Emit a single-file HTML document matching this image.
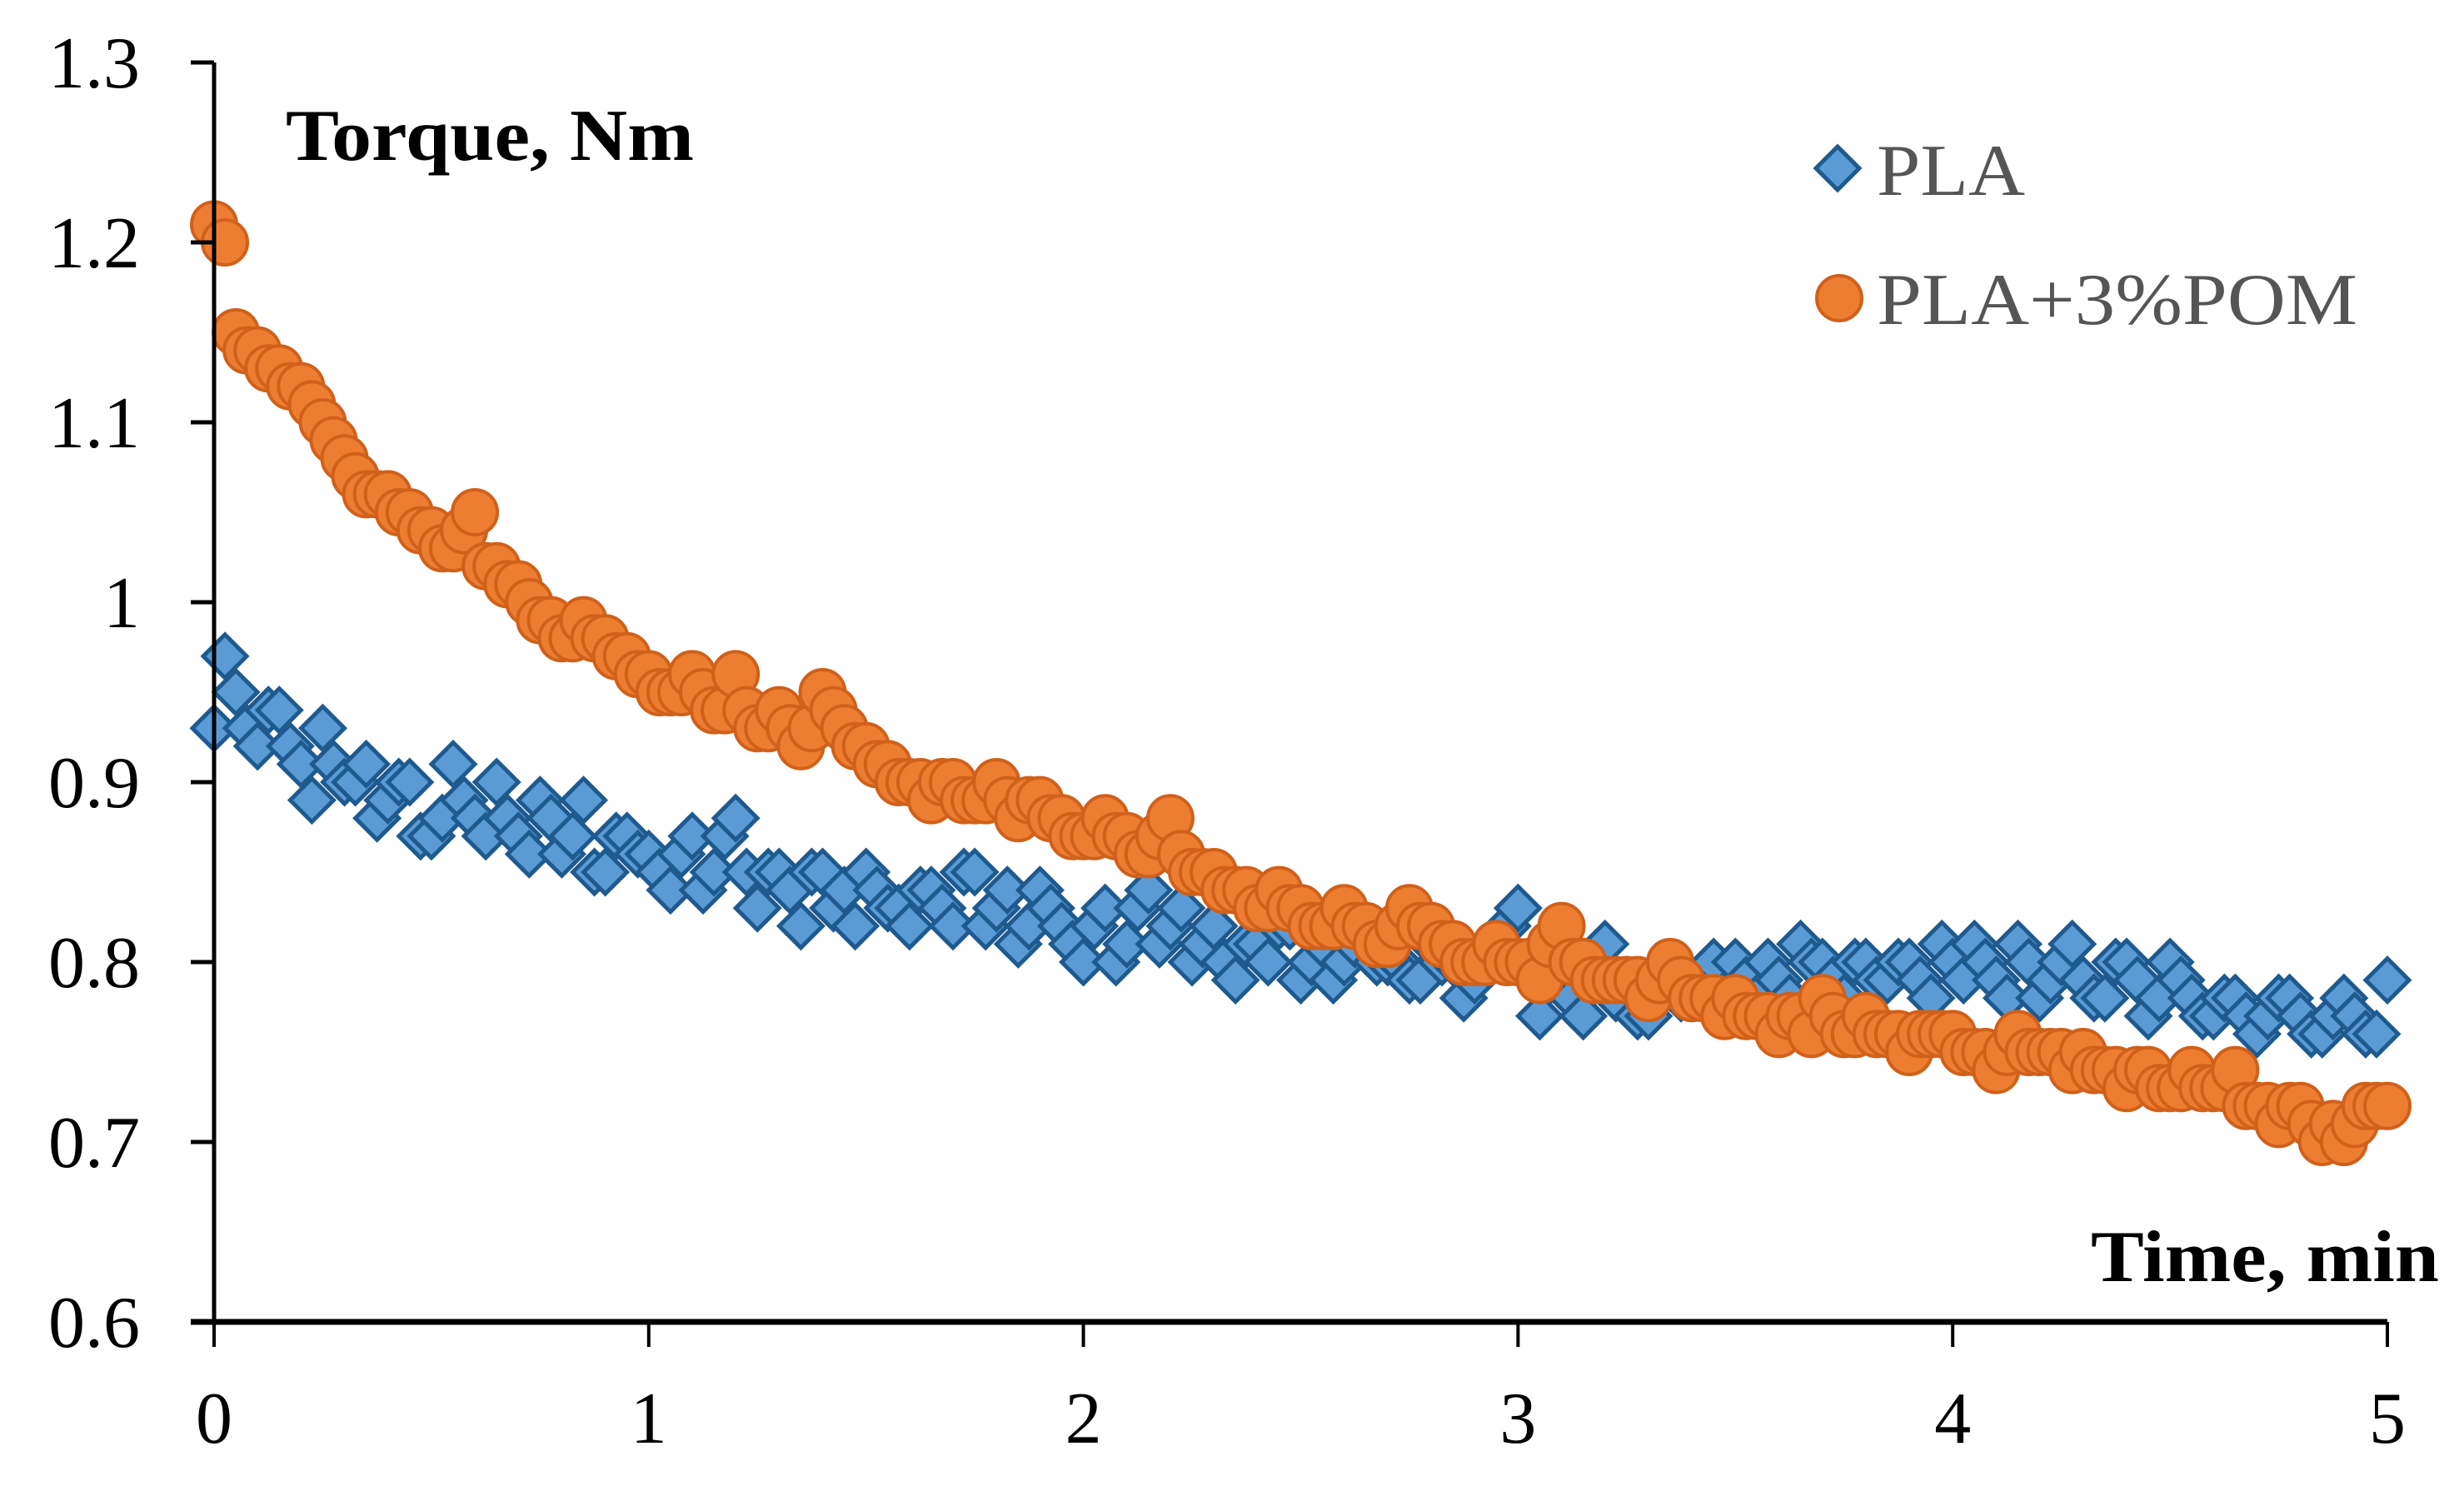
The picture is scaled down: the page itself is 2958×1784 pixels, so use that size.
<!DOCTYPE html>
<html><head><meta charset="utf-8"><style>
html,body{margin:0;padding:0;background:#fff;}
svg{display:block;font-family:"Liberation Serif",serif;}
</style></head><body>
<svg id="chart" width="2958" height="1784" viewBox="0 0 2958 1784" xmlns="http://www.w3.org/2000/svg">
<g id="marks"></g>
<g id="axes"></g>
<text x="343" y="192" font-size="88" font-weight="bold" textLength="490" lengthAdjust="spacingAndGlyphs">Torque, Nm</text>
<text x="2510" y="1538" font-size="88" font-weight="bold" textLength="418" lengthAdjust="spacingAndGlyphs">Time, min</text>
<g>
<polygon points="2206,176 2232,202 2206,228 2180,202" fill="#5B9BD5" stroke="#1F5A8F" stroke-width="5"/>
<text x="2253" y="234" font-size="88" fill="#555" textLength="178" lengthAdjust="spacingAndGlyphs">PLA</text>
<circle cx="2208" cy="358" r="27" fill="#ED7D31" stroke="#D0601A" stroke-width="4"/>
<text x="2253" y="389" font-size="88" fill="#555" textLength="577" lengthAdjust="spacingAndGlyphs">PLA+3%POM</text>
</g>
</svg>
<script>
const times = [0,0.05,0.1,0.15,0.2,0.25,0.3,0.35,0.4,0.45,0.5,0.55,0.6,0.65,0.7,0.75,0.8,0.85,0.9,0.95,1,1.05,1.1,1.15,1.2,1.25,1.3,1.35,1.4,1.45,1.5,1.55,1.6,1.65,1.7,1.75,1.8,1.85,1.9,1.95,2,2.05,2.1,2.15,2.2,2.25,2.3,2.35,2.4,2.45,2.5,2.55,2.6,2.65,2.7,2.75,2.8,2.85,2.9,2.95,3,3.05,3.1,3.15,3.2,3.25,3.3,3.35,3.4,3.45,3.5,3.55,3.6,3.65,3.7,3.75,3.8,3.85,3.9,3.95,4,4.05,4.1,4.15,4.2,4.25,4.3,4.35,4.4,4.45,4.5,4.55,4.6,4.65,4.7,4.75,4.8,4.85,4.9,4.95,5];
const midTimes = [0.025,0.075,0.125,0.175,0.225,0.275,0.325,0.375,0.425,0.475,0.525,0.575,0.625,0.675,0.725,0.775,0.825,0.875,0.925,0.975,1.025,1.075,1.125,1.175,1.225,1.275,1.325,1.375,1.425,1.475,1.525,1.575,1.625,1.675,1.725,1.775,1.825,1.875,1.925,1.975,2.025,2.075,2.125,2.175,2.225,2.275,2.325,2.375,2.425,2.475,2.525,2.575,2.625,2.675,2.725,2.775,2.825,2.875,2.925,2.975,3.025,3.075,3.125,3.175,3.225,3.275,3.325,3.375,3.425,3.475,3.525,3.575,3.625,3.675,3.725,3.775,3.825,3.875,3.925,3.975,4.025,4.075,4.125,4.175,4.225,4.275,4.325,4.375,4.425,4.475,4.525,4.575,4.625,4.675,4.725,4.775,4.825,4.875,4.925,4.975];
const plaValues = [0.93,0.95,0.92,0.94,0.91,0.93,0.90,0.91,0.89,0.90,
0.87,0.91,0.88,0.90,0.87,0.89,0.86,0.89,0.85,0.87,
0.86,0.84,0.87,0.85,0.88,0.83,0.85,0.82,0.85,0.84,
0.85,0.83,0.82,0.84,0.82,0.85,0.83,0.81,0.84,0.82,
0.80,0.83,0.81,0.84,0.82,0.80,0.82,0.79,0.81,0.82,
0.79,0.81,0.80,0.82,0.80,0.79,0.81,0.80,0.79,0.81,
0.83,0.77,0.80,0.77,0.81,0.79,0.77,0.80,0.78,0.80,
0.80,0.78,0.79,0.81,0.80,0.78,0.80,0.79,0.80,0.78,
0.80,0.81,0.79,0.81,0.78,0.80,0.79,0.78,0.80,0.77,
0.80,0.78,0.77,0.78,0.76,0.78,0.77,0.76,0.78,0.76,0.79];
const plaMidValues = [0.97,0.93,0.94,0.92,0.89,0.91,0.90,0.88,0.90,0.87,
0.88,0.89,0.87,0.88,0.86,0.88,0.87,0.85,0.87,0.86,
0.85,0.86,0.84,0.87,0.85,0.85,0.84,0.85,0.83,0.82,
0.84,0.83,0.84,0.83,0.85,0.82,0.84,0.82,0.83,0.81,
0.82,0.80,0.83,0.81,0.83,0.81,0.80,0.81,0.80,0.82,
0.80,0.79,0.81,0.80,0.80,0.79,0.80,0.78,0.80,0.82,
0.80,0.79,0.78,0.80,0.78,0.77,0.79,0.78,0.79,0.78,
0.79,0.80,0.78,0.80,0.79,0.80,0.79,0.80,0.79,0.81,
0.79,0.80,0.78,0.80,0.79,0.81,0.78,0.80,0.79,0.78,
0.79,0.77,0.78,0.77,0.77,0.78,0.76,0.77,0.77,0.76];
const pomValues = [1.21,1.15,1.14,1.13,1.12,1.10,1.08,1.06,1.06,1.05,
1.04,1.03,1.05,1.02,1.01,0.99,0.98,0.99,0.98,0.97,
0.96,0.95,0.96,0.94,0.96,0.93,0.94,0.92,0.95,0.93,
0.92,0.91,0.90,0.89,0.90,0.89,0.90,0.88,0.89,0.88,
0.87,0.88,0.87,0.86,0.88,0.85,0.85,0.84,0.83,0.84,
0.83,0.82,0.83,0.82,0.81,0.83,0.82,0.81,0.80,0.81,
0.80,0.79,0.82,0.80,0.79,0.79,0.78,0.80,0.78,0.78,
0.78,0.77,0.76,0.77,0.78,0.76,0.77,0.76,0.75,0.76,
0.76,0.75,0.74,0.76,0.75,0.75,0.75,0.74,0.73,0.74,
0.73,0.74,0.73,0.74,0.72,0.71,0.72,0.70,0.70,0.72,0.72];
const pomMidValues = [1.20,1.14,1.13,1.12,1.11,1.09,1.07,1.06,1.05,1.04,
1.03,1.04,1.02,1.01,1.00,0.99,0.98,0.98,0.97,0.96,
0.95,0.95,0.95,0.94,0.94,0.93,0.93,0.93,0.94,0.92,
0.91,0.90,0.90,0.90,0.89,0.89,0.89,0.89,0.88,0.87,
0.87,0.87,0.86,0.87,0.86,0.85,0.84,0.84,0.83,0.83,
0.82,0.82,0.82,0.81,0.82,0.82,0.81,0.80,0.80,0.80,
0.80,0.81,0.80,0.79,0.79,0.79,0.79,0.79,0.78,0.77,
0.77,0.77,0.77,0.76,0.77,0.76,0.76,0.76,0.76,0.76,
0.75,0.75,0.75,0.75,0.75,0.74,0.74,0.74,0.74,0.73,
0.73,0.73,0.73,0.72,0.72,0.72,0.71,0.71,0.71,0.72];
const yTicks = [0.6,0.7,0.8,0.9,1,1.1,1.2,1.3];
const yTickLabels = ["0.6","0.7","0.8","0.9","1","1.1","1.2","1.3"];
const xTicks = [0,1,2,3,4,5];
const xTickLabels = ["0","1","2","3","4","5"];

const X0=257, X1=2866, Y0=1587, Y1=75;
function xs(t){return X0+(t-0)/(5-0)*(X1-X0);}
function ys(v){return Y0-(v-0.6)/(1.3-0.6)*(Y0-Y1);}
const NS="http://www.w3.org/2000/svg";
const marks=document.getElementById('marks');
const axes=document.getElementById('axes');

function diamond(t,v){
  const cx=xs(t), cy=ys(v), h=26;
  const p=document.createElementNS(NS,'polygon');
  p.setAttribute('points',`${cx},${cy-h} ${cx+h},${cy} ${cx},${cy+h} ${cx-h},${cy}`);
  p.setAttribute('fill','#5B9BD5');p.setAttribute('stroke','#1F5A8F');p.setAttribute('stroke-width','5');
  
  
  marks.appendChild(p);
}
function circ(t,v){
  const c=document.createElementNS(NS,'circle');
  c.setAttribute('cx',xs(t));c.setAttribute('cy',ys(v));c.setAttribute('r',27);
  c.setAttribute('fill','#ED7D31');c.setAttribute('stroke','#D0601A');c.setAttribute('stroke-width','4');
  
  
  marks.appendChild(c);
}
times.forEach((t,i)=>{diamond(t,plaValues[i]); if(i<midTimes.length) diamond(midTimes[i],plaMidValues[i]);});
times.forEach((t,i)=>{circ(t,pomValues[i]); if(i<midTimes.length) circ(midTimes[i],pomMidValues[i]);});

function line(x1,y1,x2,y2,w,name){
  const l=document.createElementNS(NS,'line');
  l.setAttribute('x1',x1);l.setAttribute('y1',y1);l.setAttribute('x2',x2);l.setAttribute('y2',y2);
  l.setAttribute('stroke','#000');l.setAttribute('stroke-width',w);
  
  
  axes.appendChild(l);
}
line(X0,Y1,X0,Y0,5,'y-axis-line');
line(X0-28,Y0,X1,Y0,7,'x-axis-line');
yTicks.forEach((v,i)=>{
  line(X0-28,ys(v),X0,ys(v),5,'y-tick');
  const tx=document.createElementNS(NS,'text');
  tx.setAttribute('x',168);tx.setAttribute('y',ys(v)+30);
  tx.setAttribute('text-anchor','end');tx.setAttribute('font-size','88');
  tx.textContent=yTickLabels[i];
  
  
  axes.appendChild(tx);
});
xTicks.forEach((t,i)=>{
  line(xs(t),Y0,xs(t),Y0+30,4,'x-tick');
  const tx=document.createElementNS(NS,'text');
  tx.setAttribute('x',xs(t));tx.setAttribute('y',1732);
  tx.setAttribute('text-anchor','middle');tx.setAttribute('font-size','88');
  tx.textContent=xTickLabels[i];
  
  
  axes.appendChild(tx);
});
</script>
</body></html>
